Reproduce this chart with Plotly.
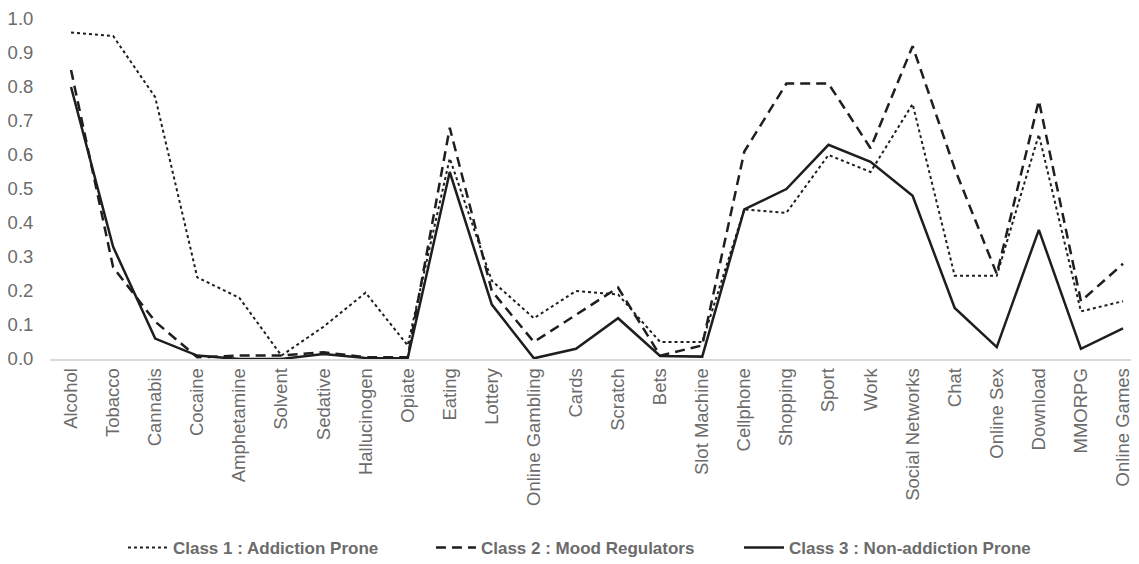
import plotly.graph_objects as go

categories = ["Alcohol", "Tobacco", "Cannabis", "Cocaine", "Amphetamine", "Solvent",
              "Sedative", "Hallucinogen", "Opiate", "Eating", "Lottery", "Online Gambling",
              "Cards", "Scratch", "Bets", "Slot Machine", "Cellphone", "Shopping", "Sport",
              "Work", "Social Networks", "Chat", "Online Sex", "Download", "MMORPG",
              "Online Games"]

class1 = [0.96, 0.95, 0.77, 0.24, 0.18, 0.01, 0.095, 0.195, 0.04, 0.59, 0.23, 0.12,
          0.20, 0.19, 0.05, 0.05, 0.44, 0.43, 0.60, 0.55, 0.75, 0.245, 0.245, 0.66,
          0.14, 0.17]
class2 = [0.85, 0.27, 0.11, 0.005, 0.01, 0.01, 0.02, 0.005, 0.005, 0.68, 0.20, 0.05,
          0.13, 0.21, 0.01, 0.04, 0.61, 0.81, 0.81, 0.62, 0.92, 0.56, 0.25, 0.76,
          0.17, 0.28]
class3 = [0.80, 0.33, 0.06, 0.01, 0.0, 0.0, 0.015, 0.003, 0.002, 0.55, 0.16, 0.002,
          0.03, 0.12, 0.009, 0.007, 0.44, 0.50, 0.63, 0.58, 0.48, 0.15, 0.035, 0.38,
          0.03, 0.09]

names = ["Class 1 : Addiction Prone", "Class 2 : Mood Regulators",
         "Class 3 : Non-addiction Prone"]

line_color = "#1e1e1e"
text_color = "#6b6b6b"
font_family = "Liberation Sans, Arial, sans-serif"

fig = go.Figure()
fig.add_trace(go.Scatter(x=categories, y=class1, mode="lines", name=names[0],
                         line=dict(color=line_color, width=2, dash="dot")))
fig.add_trace(go.Scatter(x=categories, y=class2, mode="lines", name=names[1],
                         line=dict(color=line_color, width=2.5, dash="10px,6px")))
fig.add_trace(go.Scatter(x=categories, y=class3, mode="lines", name=names[2],
                         line=dict(color=line_color, width=2.5)))

fig.update_layout(
    width=1131, height=556,
    margin=dict(l=42, r=0, t=8, b=205),
    paper_bgcolor="white", plot_bgcolor="white",
    font=dict(family=font_family, color=text_color, size=18),
    showlegend=True,
    legend=dict(orientation="h", x=0.067, xanchor="left",
                yref="container", y=0.0288, yanchor="middle",
                font=dict(size=17, color=text_color, family=font_family, weight="bold"),
                entrywidth=253, itemwidth=40, tracegroupgap=0),
    xaxis=dict(type="category", range=[-0.5, 25.38], tickangle=-90,
               showline=True, linecolor="#d9d9d9", linewidth=1.5,
               showgrid=False, zeroline=False, ticks="",
               tickfont=dict(size=18.5, color=text_color)),
    yaxis=dict(range=[0, 1.0], dtick=0.1, tickformat=".1f", showgrid=False,
               zeroline=False, showline=False, ticks="outside", ticklen=12,
               tickcolor="rgba(0,0,0,0)", ticklabeloverflow="allow",
               tickfont=dict(size=18.5, color=text_color)),
)

fig.write_html("out.html")
